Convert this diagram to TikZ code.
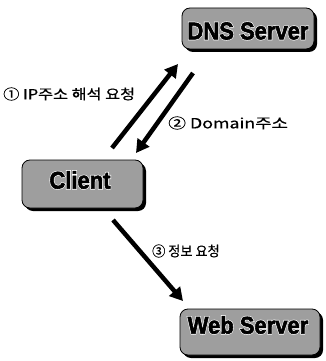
\documentclass[tikz,border=0pt]{standalone}
\usepackage{fontspec}
\usetikzlibrary{arrows.meta,shadows}
\newfontfamily\kfont[FakeBold=0.5]{Noto Sans CJK KR}
\newfontfamily\heavyfont[FakeBold=2.5]{Liberation Sans Bold}
\newfontfamily\halofont[FakeBold=8]{Liberation Sans Bold}
% heavy black lettering on a thin white halo
\newcommand\boxtitle[1]{\makebox[0pt]{\color{white}\halofont #1}\makebox[0pt]{\color{black}\heavyfont #1}}
\tikzset{
  server/.style={draw=black, line width=0.8pt, rounded corners=8pt, fill=black!38,
    inner sep=0pt, drop shadow={shadow xshift=3pt, shadow yshift=-3pt, fill=black, opacity=1}},
  title/.style={inner sep=0pt, font=\fontsize{22}{24}\selectfont, yscale=1.1},
  flow/.style={line width=4.5pt, -{Triangle[length=13pt,width=14pt]}},
  note/.style={inner sep=0pt, anchor=west, font=\kfont\fontsize{14}{16}\selectfont}
}
\begin{document}
\begin{tikzpicture}[x=1pt,y=-1pt]
  \fill[white] (0,0) rectangle (325,361);
  \useasboundingbox (0,0) rectangle (325,361);

  % the three hosts
  \node[server, minimum width=132pt, minimum height=41pt] (dns) at (248,28.5) {};
  \node[server, minimum width=121pt, minimum height=48pt] (client) at (82.5,184) {};
  \node[server, minimum width=140pt, minimum height=46pt] (web) at (250,332) {};
  \node[title] (dnstext) at (248,31) {\boxtitle{DNS Server}};
  \node[title] (clienttext) at (80,180) {\boxtitle{Client}};
  \node[title] (webtext) at (248,325) {\boxtitle{Web Server}};

  % arrow end points
  \coordinate (q1s) at (112,148);
  \coordinate (q1e) at (178,64);
  \coordinate (q2s) at (193,73);
  \coordinate (q2e) at (136,153);
  \coordinate (q3s) at (113,220);
  \coordinate (q3e) at (183,301);

  \draw[flow] (q1s) -- (q1e);
  \draw[flow] (q2s) -- (q2e);
  \draw[flow] (q3s) -- (q3e);

  % step labels
  \node[note, xscale=1.16] (n1) at (3,94) {① IP주소 해석 요청};
  \node[note, xscale=1.27] (n2) at (168,123) {② Domain주소};
  \node[note, xscale=0.94] (n3) at (152,251) {③ 정보 요청};
\end{tikzpicture}
\end{document}
